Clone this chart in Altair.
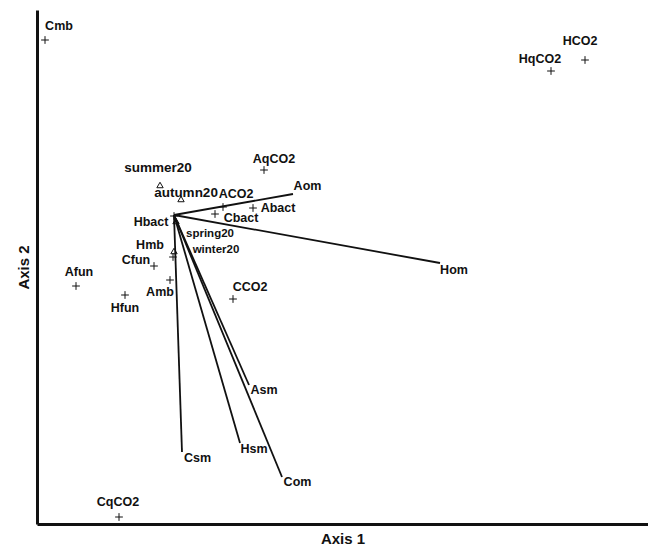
import altair as alt
import pandas as pd

# Species / variables shown as "+" markers (ordination scores)
sp_names = ["Cmb", "HCO2", "HqCO2", "AqCO2", "ACO2", "Abact", "Cbact", "Hbact",
            "Hmb", "Cfun", "Amb", "Afun", "Hfun", "CCO2", "CqCO2"]
sp_x = [-1.29, 4.11, 3.77, 0.90, 0.49, 0.79, 0.41, 0.00, -0.01, -0.20, -0.04, -0.98, -0.49, 0.59, -0.55]
sp_y = [1.75, 1.55, 1.44, 0.45, 0.08, 0.07, 0.01, -0.01, -0.42, -0.51, -0.65, -0.71, -0.80, -0.84, -3.02]
sp_lx = [-1.15, 4.06, 3.66, 1.00, 0.62, 1.04, 0.67, -0.23, -0.24, -0.38, -0.14, -0.95, -0.49, 0.76, -0.56]
sp_ly = [1.89, 1.74, 1.56, 0.56, 0.21, 0.075, -0.03, -0.065, -0.30, -0.45, -0.77, -0.57, -0.93, -0.72, -2.87]

# Seasons shown as open triangles
se_names = ["summer20", "autumn20", "spring20", "winter20"]
se_x = [-0.14, 0.07, 0.02, 0.00]
se_y = [0.30, 0.16, -0.06, -0.36]
se_lx = [-0.16, 0.12, 0.36, 0.42]
se_ly = [0.47, 0.22, -0.19, -0.345]

# Environmental vectors (biplot arrows from origin)
ve_names = ["Aom", "Hom", "Asm", "Hsm", "Csm", "Com"]
ve_x = [1.19, 2.66, 0.75, 0.66, 0.08, 1.08]
ve_y = [0.21, -0.48, -1.70, -2.28, -2.37, -2.62]
ve_lx = [1.335, 2.80, 0.90, 0.80, 0.235, 1.235]
ve_ly = [0.29, -0.55, -1.75, -2.34, -2.43, -2.67]

sp = pd.DataFrame({"name": sp_names, "x": sp_x, "y": sp_y, "lx": sp_lx, "ly": sp_ly})
se = pd.DataFrame({"name": se_names, "x": se_x, "y": se_y, "lx": se_lx, "ly": se_ly})
ve = pd.DataFrame({"name": ve_names, "x": ve_x, "y": ve_y, "lx": ve_lx, "ly": ve_ly})

FONT = "Liberation Sans"
xs = alt.Scale(domain=[-1.37, 4.74], nice=False, zero=False)
ys = alt.Scale(domain=[-3.09, 2.05], nice=False, zero=False)

xax = alt.Axis(title="Axis 1", ticks=False, labels=False, grid=False, domainWidth=3,
               domainColor="#111", titleFont=FONT, titleFontSize=15, titleFontWeight="bold",
               titleColor="#111", titlePadding=7)
yax = alt.Axis(title="Axis 2", ticks=False, labels=False, grid=False, domainWidth=3,
               domainColor="#111", titleFont=FONT, titleFontSize=15, titleFontWeight="bold",
               titleColor="#111", titlePadding=6)

base_x = alt.X("x:Q", scale=xs, axis=xax)
base_y = alt.Y("y:Q", scale=ys, axis=yax)

vectors = alt.Chart(ve).transform_calculate(x0="0", y0="0").mark_rule(
    color="#111", strokeWidth=1.8
).encode(x=base_x, y=base_y, x2="x0:Q", y2="y0:Q")

plus = alt.Chart(sp).mark_point(
    shape="M-1,0L1,0M0,-1L0,1", filled=False, color="#111", strokeWidth=1, size=60, opacity=1
).encode(x=base_x, y=base_y)

tri = alt.Chart(se).mark_point(
    shape="triangle-up", filled=False, color="#111", strokeWidth=1, size=40, opacity=1
).encode(x=base_x, y=base_y)

sp_text = alt.Chart(sp).mark_text(
    font=FONT, fontSize=12.5, fontWeight="bold", color="#111", align="center", baseline="middle"
).encode(x=alt.X("lx:Q", scale=xs, axis=xax), y=alt.Y("ly:Q", scale=ys, axis=yax), text="name:N")

se_text = alt.Chart(se).mark_text(
    font=FONT, fontWeight="bold", color="#111", align="center", baseline="middle"
).encode(
    x=alt.X("lx:Q", scale=xs, axis=xax), y=alt.Y("ly:Q", scale=ys, axis=yax), text="name:N",
    size=alt.condition(alt.FieldOneOfPredicate(field="name", oneOf=["spring20", "winter20"]),
                       alt.value(11.5), alt.value(13.5)),
)

ve_text = alt.Chart(ve).mark_text(
    font=FONT, fontSize=12.5, fontWeight="bold", color="#111", align="center", baseline="middle"
).encode(x=alt.X("lx:Q", scale=xs, axis=xax), y=alt.Y("ly:Q", scale=ys, axis=yax), text="name:N")

chart = alt.layer(vectors, plus, tri, sp_text, se_text, ve_text).properties(
    width=611, height=514,
    autosize=alt.AutoSizeParams(type="none"),
    padding={"left": 37, "top": 10, "right": 0, "bottom": 24},
    background="white",
).configure_view(stroke=None)

chart.save("out.html", embed_options={"renderer": "svg", "actions": False})
